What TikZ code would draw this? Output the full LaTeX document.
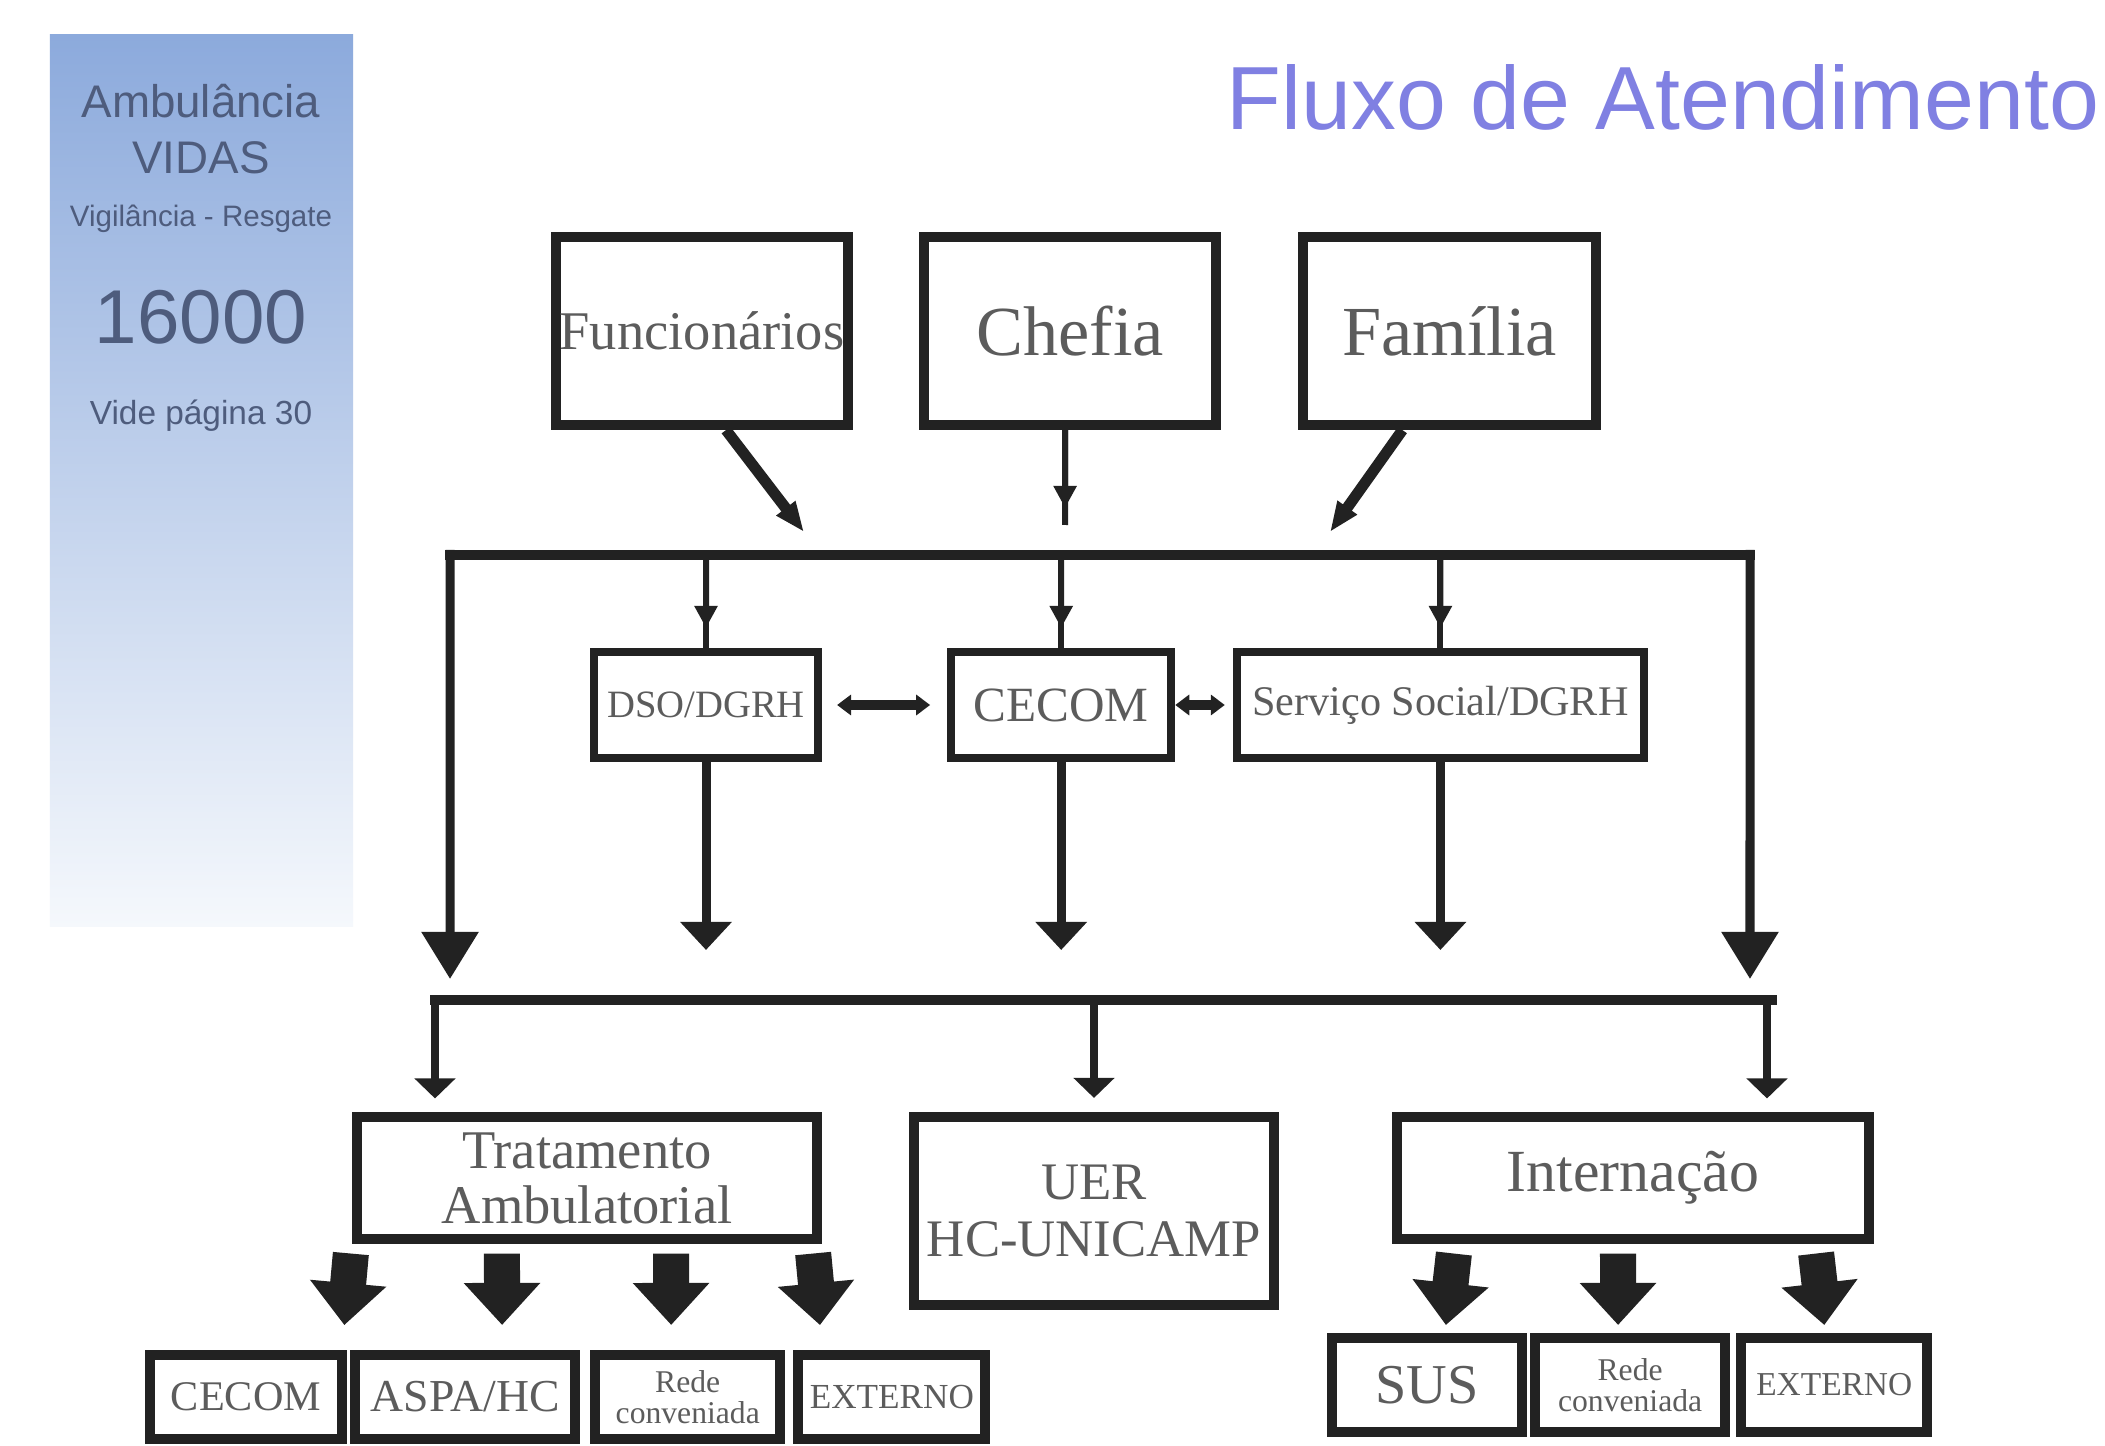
\documentclass[tikz,border=0pt]{standalone}
\usepackage{fontspec}
\setmainfont{Liberation Serif}
\newfontfamily\slidefont{Liberation Sans}
\usepackage{tikz}
\usetikzlibrary{positioning, arrows.meta, calc}
\definecolor{panelblue}{RGB}{140,170,220}
\definecolor{panelmid}{RGB}{192,207,234}
\definecolor{panelfade}{RGB}{245,248,252}
\definecolor{paneltext}{RGB}{78,92,125}
\definecolor{titleblue}{RGB}{128,128,226}
\definecolor{ink}{RGB}{34,34,34}
\definecolor{boxtext}{RGB}{92,92,92}

\begin{document}
\begin{tikzpicture}[x=0.01cm, y=-0.01cm,
  topbox/.style = {draw=ink, line width=0.1cm, minimum width=2.92cm, minimum height=1.88cm, inner sep=0pt, text=boxtext},
  midbox/.style = {draw=ink, line width=0.08cm, minimum height=1.05cm, inner sep=0pt, text=boxtext},
  lowbox/.style = {draw=ink, line width=0.1cm, inner sep=0pt, align=center, text=boxtext},
  unitbox/.style = {draw=ink, line width=0.1cm, inner sep=0pt, align=center, text=boxtext},
  paneltxt/.style = {text=paneltext, inner sep=0pt},
  busline/.style = {draw=ink, line width=0.1cm},
  wire/.style = {draw=ink, line width=0.06cm},
  feedarrow/.style = {draw=ink, line width=0.11cm, -{Triangle[length=0.3cm,width=0.22cm]}},
  smallarrow/.style = {draw=ink, line width=0.06cm, -{Triangle[length=0.22cm,width=0.22cm]}},
  linkarrow/.style = {draw=ink, line width=0.1cm, {Triangle[length=0.14cm,width=0.2cm]}-{Triangle[length=0.14cm,width=0.2cm]}},
  bigarrow/.style = {draw=ink, line width=0.09cm, -{Triangle[length=0.47cm,width=0.55cm]}},
  droparrow/.style = {draw=ink, line width=0.09cm, -{Triangle[length=0.28cm,width=0.5cm]}},
  lowarrow/.style = {draw=ink, line width=0.08cm, -{Triangle[length=0.2cm,width=0.4cm]}},
  blockarrow/.style = {draw=ink, line width=0.36cm, -{Triangle[length=0.42cm,width=0.74cm]}}]

\useasboundingbox (0,0) rectangle (2105,1446);
\fill[white] (0,0) rectangle (2105,1446);

% side panel
\node[minimum width=3.03cm, minimum height=8.91cm, inner sep=0pt, top color=panelblue, middle color=panelmid, bottom color=panelfade] (vidas) at (201.5,480.5) {};
\node[paneltxt, font=\slidefont\fontsize{13}{15}\selectfont] (amb) at (201,101) {Ambulância};
\node[paneltxt, font=\slidefont\fontsize{13}{15}\selectfont] (vid) at (201,158) {VIDAS};
\node[paneltxt, font=\slidefont\fontsize{8.4}{10}\selectfont] (vig) at (201,219) {Vigilância - Resgate};
\node[paneltxt, font=\slidefont\fontsize{21.7}{24}\selectfont] (num) at (201,317) {16000};
\node[paneltxt, font=\slidefont\fontsize{9.5}{11}\selectfont] (vide) at (201,416) {Vide página 30};

% title
\node[anchor=base west, inner sep=0pt, text=titleblue, font=\slidefont\fontsize{25.5}{30}\selectfont] (title) at (1226,130) {Fluxo de Atendimento};

% top row
\node[topbox, font=\fontsize{15.5}{18}\selectfont] (func) at (702,331) {Funcionários};
\node[topbox, font=\fontsize{20}{24}\selectfont] (chefia) [right=0.66cm of func] {Chefia};
\node[topbox, font=\fontsize{20}{24}\selectfont] (familia) [right=0.77cm of chefia] {Família};

% middle row
\node[midbox, minimum width=2.24cm, font=\fontsize{11}{13}\selectfont] (dso) at (706,705) {DSO/DGRH};
\node[midbox, minimum width=2.20cm, font=\fontsize{14}{16}\selectfont] (cecom) [right=1.25cm of dso] {CECOM};
\node[midbox, minimum width=4.07cm, font=\fontsize{12}{14}\selectfont] (servico) [right=0.575cm of cecom] {Serviço Social/DGRH};

% lower row
\node[lowbox, minimum width=4.6cm, minimum height=1.21cm, font=\fontsize{15.5}{15.6}\selectfont] (trat) at (587,1178) {Tratamento\\Ambulatorial};
\node[lowbox, minimum width=3.6cm, minimum height=1.88cm, font=\fontsize{15}{16}\selectfont] (uer) at (1094,1211) {UER\\HC-UNICAMP};
\node[lowbox, minimum width=4.72cm, minimum height=1.21cm, font=\fontsize{17}{19}\selectfont] (intern) at (1633,1178) {Internação};

% units below
\node[unitbox, minimum width=1.92cm, minimum height=0.84cm, font=\fontsize{12}{14}\selectfont] (ucecom) at (246,1397) {CECOM};
\node[unitbox, minimum width=2.20cm, minimum height=0.84cm, font=\fontsize{13}{15}\selectfont] (aspa) [right=0.03cm of ucecom] {ASPA/HC};
\node[unitbox, minimum width=1.85cm, minimum height=0.84cm, font=\fontsize{9}{9}\selectfont] (rede) [right=0.1cm of aspa] {Rede\\conveniada};
\node[unitbox, minimum width=1.87cm, minimum height=0.84cm, font=\fontsize{10}{12}\selectfont] (ext) [right=0.08cm of rede] {EXTERNO};

\node[unitbox, minimum width=1.9cm, minimum height=0.94cm, font=\fontsize{16}{18}\selectfont] (sus) at (1427,1385) {SUS};
\node[unitbox, minimum width=1.9cm, minimum height=0.94cm, font=\fontsize{9}{9}\selectfont] (rede2) [right=0.03cm of sus] {Rede\\conveniada};
\node[unitbox, minimum width=1.86cm, minimum height=0.94cm, font=\fontsize{9.5}{11}\selectfont] (ext2) [right=0.06cm of rede2] {EXTERNO};

% bus lines
\coordinate (busAw) at (445,555);
\coordinate (busAe) at (1755,555);
\coordinate (busBw) at (430,1000);
\coordinate (busBe) at (1777,1000);
\coordinate (dropL) at (435,1000);
\coordinate (dropR) at (1767,1000);
\draw[busline] (busAw) -- (busAe);
\draw[busline] (busBw) -- (busBe);

% into the first bus
\coordinate (funcin) at (804,532);
\coordinate (chefin) at (1065,525);
\coordinate (famin) at (1330,532);
\draw[feedarrow] ([xshift=0.24cm]func.south) -- (funcin);
\draw[wire] ([xshift=-0.05cm]chefia.south) -- (chefin);
\draw[smallarrow] ([xshift=-0.05cm]chefia.south) -- ($([xshift=-0.05cm]chefia.south)!0.82!(chefin)$);
\draw[feedarrow] ([xshift=-0.47cm]familia.south) -- (famin);

% first bus to the services
\draw[wire] (dso.north |- busAw) -- (dso.north);
\draw[smallarrow] (dso.north |- busAw) -- ($(dso.north |- busAw)!0.78!(dso.north)$);
\draw[wire] (cecom.north |- busAw) -- (cecom.north);
\draw[smallarrow] (cecom.north |- busAw) -- ($(cecom.north |- busAw)!0.78!(cecom.north)$);
\draw[wire] (servico.north |- busAw) -- (servico.north);
\draw[smallarrow] (servico.north |- busAw) -- ($(servico.north |- busAw)!0.78!(servico.north)$);
\draw[linkarrow, shorten <=0.15cm, shorten >=0.17cm] (dso) -- (cecom);
\draw[linkarrow, shorten >=0.08cm] (cecom) -- (servico);

% down to the second bus
\draw[bigarrow] ([xshift=0.05cm,yshift=0.05cm]busAw) -- ([xshift=0.2cm,yshift=0.21cm]busBw);
\draw[bigarrow] ([xshift=-0.05cm,yshift=0.05cm]busAe) -- ([xshift=-0.27cm,yshift=0.21cm]busBe);
\draw[droparrow, shorten >=0.5cm] (dso.south) -- (dso.south |- busBw);
\draw[droparrow, shorten >=0.5cm] (cecom.south) -- (cecom.south |- busBw);
\draw[droparrow, shorten >=0.5cm] (servico.south) -- (servico.south |- busBw);

% second bus to the lower row
\draw[lowarrow, shorten >=0.14cm] (dropL) -- (dropL |- trat.north);
\draw[lowarrow, shorten >=0.14cm] (uer.north |- busBw) -- (uer.north);
\draw[lowarrow, shorten >=0.14cm] (dropR) -- (dropR |- intern.north);

% lower row to the units
\draw[blockarrow, shorten >=0.25cm] ([xshift=-2.36cm,yshift=-0.1cm]trat.south) -- ([xshift=0.96cm]ucecom.north);
\draw[blockarrow, shorten >=0.25cm] ([xshift=-0.85cm,yshift=-0.1cm]trat.south) -- ([xshift=0.37cm]aspa.north);
\draw[blockarrow, shorten >=0.25cm] ([xshift=0.84cm,yshift=-0.1cm]trat.south) -- ([xshift=-0.165cm]rede.north);
\draw[blockarrow, shorten >=0.25cm] ([xshift=2.26cm,yshift=-0.1cm]trat.south) -- ([xshift=-0.695cm]ext.north);
\draw[blockarrow, shorten >=0.08cm] ([xshift=-1.79cm,yshift=-0.1cm]intern.south) -- ([xshift=0.18cm]sus.north);
\draw[blockarrow, shorten >=0.08cm] ([xshift=-0.15cm,yshift=-0.1cm]intern.south) -- ([xshift=-0.12cm]rede2.north);
\draw[blockarrow, shorten >=0.08cm] ([xshift=1.83cm,yshift=-0.1cm]intern.south) -- ([xshift=-0.09cm]ext2.north);
\end{tikzpicture}
\end{document}
